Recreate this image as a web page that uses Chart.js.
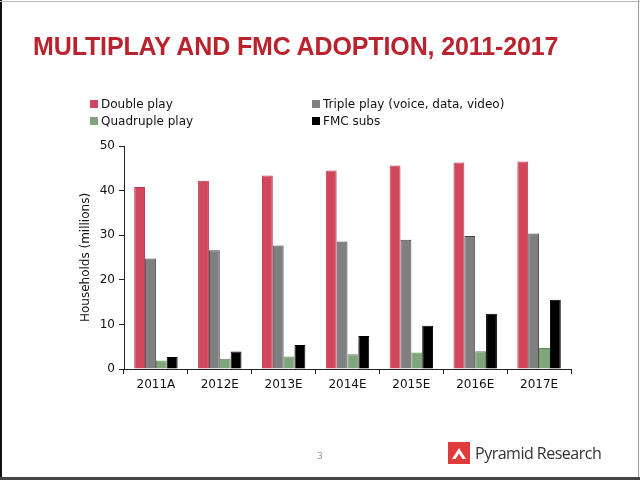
<!DOCTYPE html>
<html>
<head>
<meta charset="utf-8">
<script src="https://cdn.jsdelivr.net/npm/chart.js@4/dist/chart.umd.min.js"></script>
<style>
  html, body { margin:0; padding:0; background:#fff; }
  #slide { position:relative; width:640px; height:480px; overflow:hidden; background:#fff; }
  #c { position:absolute; left:0; top:0; }
  .frameL { position:absolute; left:0; top:0; width:2px; height:480px; background:#111; }
  .frameR { position:absolute; right:1px; top:0; width:1px; height:480px; background:#999; }
  .frameT { position:absolute; left:0; top:1px; width:640px; height:1px; background:#bbb; }
  .frameB { position:absolute; left:0; bottom:0; width:640px; height:3px; background:#444; }
  #title { position:absolute; left:33px; top:32px; font-family:"Liberation Sans", Arial, sans-serif; font-weight:bold; font-size:25px; color:#b8232d; white-space:nowrap; letter-spacing:-0.12px; }
  .leg { position:absolute; font-family:"DejaVu Sans", sans-serif; font-size:12px; color:#111; white-space:nowrap; }
  .leg span.sw { display:inline-block; width:8px; height:8px; margin-right:3px; vertical-align:0px; }
  #pg { position:absolute; left:317px; top:451px; font-family:"DejaVu Sans", sans-serif; font-size:9px; color:#999; }
  #logo { position:absolute; left:448px; top:442px; width:22px; height:22px; background:#e03a3a; }
  #logoTxt { position:absolute; left:475px; top:442px; font-family:"Open Sans", "Liberation Sans", sans-serif; font-size:16px; color:#333; white-space:nowrap; letter-spacing:-0.5px; }
</style>
</head>
<body>
<div id="slide">
  <canvas id="c" width="640" height="480"></canvas>
  <div id="title">MULTIPLAY AND FMC ADOPTION, 2011-2017</div>
  <div id="legend"></div>
  <div id="pg">3</div>
  <div id="logo"><svg width="22" height="22"><polygon points="4,17 11,6 18,17" fill="#fff"/><polygon points="7.5,17 11,11.5 14.5,17" fill="#e03a3a"/></svg></div>
  <div id="logoTxt">Pyramid Research</div>
  <div class="frameL"></div><div class="frameR"></div><div class="frameT"></div><div class="frameB"></div>
</div>
<script>
const categories = ["2011A","2012E","2013E","2014E","2015E","2016E","2017E"];
const seriesNames = ["Double play","Triple play (voice, data, video)","Quadruple play","FMC subs"];
const doublePlay    = [40.8, 42.2, 43.4, 44.5, 45.6, 46.3, 46.5];
const triplePlay    = [24.8, 26.6, 27.7, 28.6, 29.0, 29.8, 30.4];
const quadruplePlay = [1.9, 2.3, 2.8, 3.3, 3.7, 4.0, 4.7];
const fmcSubs       = [2.7, 3.9, 5.4, 7.4, 9.7, 12.4, 15.5];
const yTicks = [0, 10, 20, 30, 40, 50];
const yTitle = "Households (millions)";

const fills = ["#d2475c", "#7f7f7f", "#80a57c", "#000000"];
const borders = ["#b33a4c", "#444444", "#5f8a5b", "#000000"];
const values = [doublePlay, triplePlay, quadruplePlay, fmcSubs];

// HTML legend built from series names
const legPos = [[90,97],[312,97],[90,114],[312,114]];
const legend = document.getElementById('legend');
seriesNames.forEach((n,i)=>{
  const d = document.createElement('div');
  d.className = 'leg';
  d.style.left = legPos[i][0]+'px';
  d.style.top = legPos[i][1]+'px';
  d.innerHTML = '<span class="sw" style="background:'+fills[i]+'"></span>' + n;
  legend.appendChild(d);
});

new Chart(document.getElementById('c'), {
  type: 'bar',
  data: {
    labels: categories,
    datasets: seriesNames.map((n,i)=>({
      label: n,
      data: values[i],
      backgroundColor: fills[i],
      borderColor: borders[i],
      borderWidth: 1,
      categoryPercentage: 0.68,
      barPercentage: 1.0
    }))
  },
  options: {
    responsive: false,
    animation: false,
    layout: { padding: { left: 79, right: 69, top: 146, bottom: 81 } },
    plugins: { legend: { display: false }, tooltip: { enabled: false }, title: { display: false } },
    scales: {
      x: {
        grid: { display: true, drawOnChartArea: false, offset: true, color: '#222', tickLength: 5, tickWidth: 1 },
        border: { display: true, color: '#222', width: 1 },
        ticks: { color: '#111', font: { family: 'DejaVu Sans', size: 12 }, padding: 4, maxRotation: 0 },
        afterFit: s => { s.height = 30; }
      },
      y: {
        min: 0, max: 50,
        afterBuildTicks: s => { s.ticks = yTicks.map(v=>({value:v})); },
        grid: { display: true, drawOnChartArea: false, color: '#222', tickLength: 5 },
        border: { display: true, color: '#222', width: 1 },
        ticks: { color: '#111', font: { family: 'DejaVu Sans', size: 12 }, padding: 4 },
        title: { display: true, text: yTitle, color: '#111', font: { family: 'DejaVu Sans', size: 12 }, padding: { top: 0, bottom: 6 } },
        afterFit: s => { s.width = 45; }
      }
    }
  }
});
</script>
</body>
</html>
